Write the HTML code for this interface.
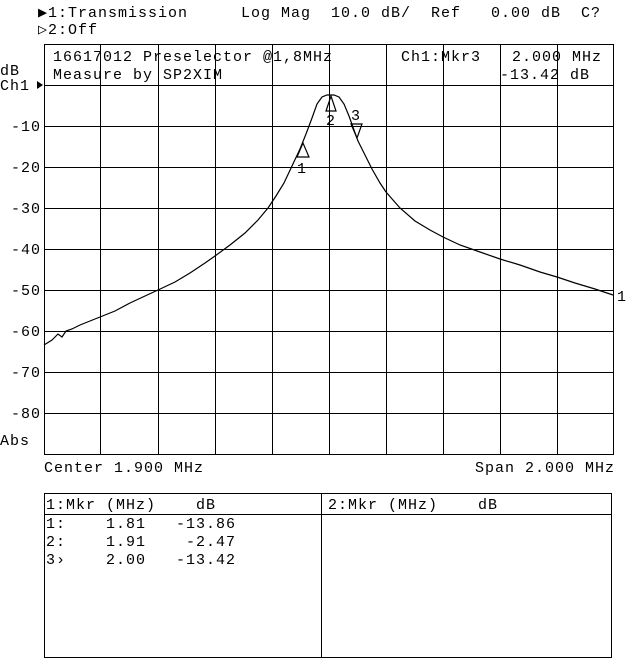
<!DOCTYPE html>
<html><head><meta charset="utf-8"><style>
html,body{margin:0;padding:0;background:#fff;}
svg{display:block}
text{font-family:"Liberation Mono","DejaVu Sans Mono",monospace;font-size:15px;letter-spacing:1px;fill:#000;white-space:pre}
</style></head><body>
<svg width="640" height="659" viewBox="0 0 640 659" xmlns="http://www.w3.org/2000/svg" xml:space="preserve">
<g stroke="#000" stroke-width="1" fill="none" shape-rendering="crispEdges">
<rect x="44.5" y="44.5" width="569" height="410"/>
<path d="M100.5 44V454M158.5 44V454M215.5 44V454M272.5 44V454M329.5 44V454M386.5 44V454M443.5 44V454M500.5 44V454M557.5 44V454"/>
<path d="M44 85.5H613M44 126.5H613M44 167.5H613M44 208.5H613M44 249.5H613M44 290.5H613M44 331.5H613M44 372.5H613M44 413.5H613"/>
<rect x="44.5" y="493.5" width="567" height="164"/>
<path d="M321.5 493V657M44 514.5H611"/>
</g>
<path fill="none" stroke="#000" stroke-width="1.2" d="M44 345 L52 340 L58 334 L62 337 L66 331 L72 329 L80 325 L90 321 L100 317 L115 311 L130 303 L145 296 L158 290 L175 282 L190 273 L205 263 L215 256 L230 245 L245 233 L258 220 L268 208 L276 196 L284 183 L292 166 L300 149 L306 134 L312 118 L317 104 L322 97 L327 95 L334 95 L339 97 L344 104 L349 116 L354 130 L358 141 L364 153 L372 169 L380 183 L386 192 L400 208 L415 221 L430 230 L443 237 L460 245 L480 252 L500 259 L520 265 L540 272 L557 277 L575 283 L595 289 L613 295"/>
<g fill="none" stroke="#000" stroke-width="1.2">
<path d="M297 157 L303 143 L309 157 Z"/>
<path d="M326 111 L331 96 L336 111 Z"/>
<path d="M351 124 L362 124 L357 138 Z"/>
</g>
<text x="297" y="173">1</text>
<text x="326" y="125">2</text>
<text x="351" y="120">3</text>
<text x="617" y="301">1</text>
<text x="38" y="17">▶1:Transmission</text>
<text x="241" y="17">Log Mag  10.0 dB/  Ref   0.00 dB  C?</text>
<text x="38" y="34">▷2:Off</text>
<text x="53" y="61">16617012 Preselector @1,8MHz</text>
<text x="401" y="61">Ch1:Mkr3</text>
<text x="512" y="61">2.000 MHz</text>
<text x="53" y="79">Measure by SP2XIM</text>
<text x="500" y="79">-13.42 dB</text>
<text x="0" y="75">dB</text>
<text x="0" y="90">Ch1</text>
<path d="M37 81 L43 85 L37 89 Z" fill="#000"/>
<g text-anchor="end">
<text x="41" y="131">-10</text><text x="41" y="172">-20</text><text x="41" y="213">-30</text><text x="41" y="254">-40</text>
<text x="41" y="295">-50</text><text x="41" y="336">-60</text><text x="41" y="377">-70</text><text x="41" y="418">-80</text>
</g>
<text x="0" y="445">Abs</text>
<text x="44" y="472">Center 1.900 MHz</text>
<text x="475" y="472">Span 2.000 MHz</text>
<text x="46" y="509">1:Mkr (MHz)    dB</text>
<text x="328" y="509">2:Mkr (MHz)    dB</text>
<text x="46" y="528">1:    1.81   -13.86</text>
<text x="46" y="546">2:    1.91    -2.47</text>
<text x="46" y="564">3›    2.00   -13.42</text>
</svg>
</body></html>
